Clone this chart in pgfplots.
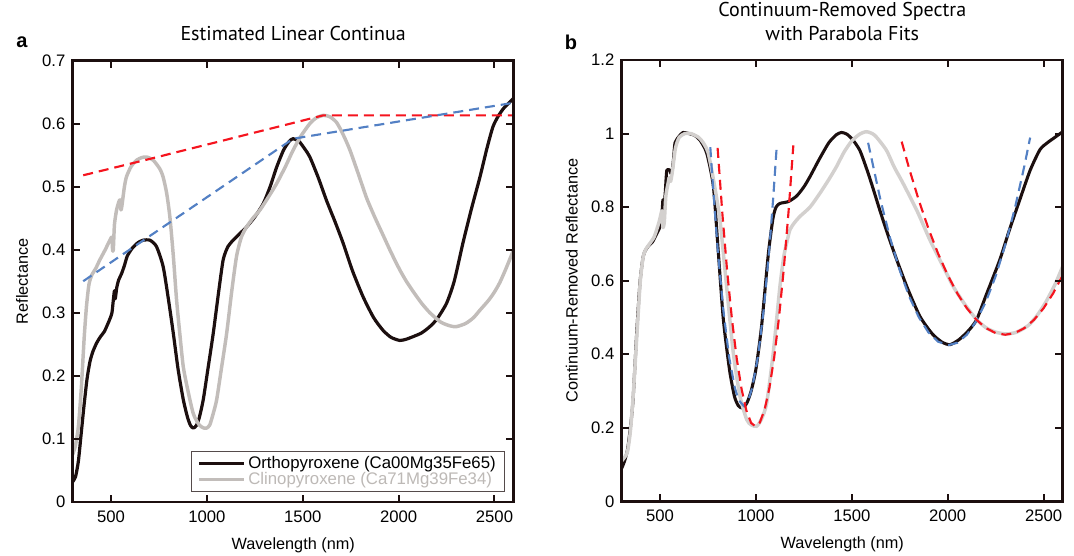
\documentclass[border=0pt]{standalone}
\usepackage{pgfplots}
\pgfplotsset{compat=1.18}
\usepackage{fontspec}
\setmainfont{Liberation Sans}
\newfontfamily\titlefont{PT Sans}
\definecolor{ink}{HTML}{1C0F0F}
\definecolor{clino}{HTML}{C2BDBA}
\definecolor{clinob}{HTML}{D3D0CE}
\definecolor{fitred}{HTML}{F5141E}
\definecolor{fitblue}{HTML}{5380C4}
\definecolor{legtext}{HTML}{BDB9B6}

\pgfplotsset{
  mystyle/.style={
    scale only axis, width=330.75pt, height=331pt,
    xmin=300, xmax=2600,
    xtick={500,1000,1500,2000,2500},
    xticklabels={500,1000,1500,2000,2500},
    axis line style={ink, line width=1.9pt},
    tick style={ink, line width=1.5pt},
    tick align=inside, major tick length=5.5pt,
    axis on top,
    ticklabel style={font=\fontsize{12.5}{14}\selectfont},
    /pgf/number format/assume math mode=true,
    xticklabel style={yshift=-3pt},
    yticklabel style={xshift=-2pt},
    every axis x label/.style={at={(axis description cs:0.5,-0.098)}, anchor=center, font=\fontsize{12.2}{14}\selectfont},
    title style={font=\titlefont\fontsize{15}{18}\selectfont, align=center, anchor=center},
  }
}

\begin{document}
\begin{tikzpicture}
\path[use as bounding box] (0,0) rectangle (805.5pt,417pt);

% ---------------- panel a ----------------
\begin{axis}[mystyle,
  at={(54.5pt,371.6pt)}, anchor=north west,
  ymin=0, ymax=0.7, ytick={0,0.1,0.2,0.3,0.4,0.5,0.6,0.7},
  yticklabels={0,0.1,0.2,0.3,0.4,0.5,0.6,0.7},
  every axis y label/.style={at={(axis description cs:-0.115,0.5)}, anchor=center, rotate=90, font=\fontsize{12.2}{14}\selectfont},
  title style={at={(axis description cs:0.5,1)}, yshift=13.9pt},
  title={Estimated Linear Continua},
  xlabel={Wavelength (nm)}, ylabel={Reflectance},
  legend style={at={(axis description cs:0.98,0.1155)}, anchor=north east,
    draw=ink!75, line width=0.6pt, fill=white,
    font=\fontsize{12.6}{14}\selectfont, inner xsep=4.5pt, inner ysep=1.5pt, row sep=-2pt,
    cells={anchor=west}},
  legend image code/.code={\draw[#1] (0pt,0pt) -- (34pt,0pt);},
]
\addlegendimage{ink, line width=2.3pt}
\addlegendentry{Orthopyroxene (Ca00Mg35Fe65)}
\addlegendimage{clino, line width=2.3pt}
\addlegendentry{\textcolor{legtext}{Clinopyroxene (Ca71Mg39Fe34)}}

\addplot[ink, line width=2.4pt, forget plot, line join=round, smooth, tension=0.4] coordinates {
(300,0.032)(315,0.04)(330,0.065)(345,0.11)(360,0.155)(375,0.195)(390,0.222)(405,0.238)(425,0.252)(445,0.262)(465,0.27)(480,0.28)(494,0.29)(505,0.30)(512,0.32)(518,0.335)(522,0.322)(530,0.34)(540,0.352)(555,0.362)(570,0.375)(585,0.39)(610,0.402)(640,0.411)(667,0.415)(703,0.415)(737,0.405)(772,0.373)(800,0.32)(825,0.267)(850,0.21)(877,0.162)(900,0.133)(915,0.121)(929,0.117)(945,0.121)(960,0.133)(981,0.162)(1005,0.21)(1033,0.267)(1060,0.33)(1085,0.384)(1110,0.405)(1137,0.415)(1170,0.425)(1207,0.436)(1250,0.452)(1294,0.473)(1330,0.5)(1364,0.531)(1400,0.558)(1430,0.572)(1450,0.576)(1480,0.572)(1510,0.56)(1537,0.547)(1580,0.515)(1624,0.478)(1670,0.443)(1711,0.41)(1760,0.366)(1815,0.325)(1870,0.292)(1919,0.272)(1960,0.261)(2006,0.256)(2040,0.258)(2075,0.262)(2120,0.268)(2163,0.278)(2200,0.29)(2250,0.315)(2290,0.35)(2335,0.41)(2380,0.465)(2424,0.515)(2460,0.56)(2492,0.595)(2520,0.612)(2550,0.625)(2600,0.64)
};
\addplot[clino, line width=2.6pt, forget plot, line join=round, smooth, tension=0.4] coordinates {
(300,0.075)(315,0.09)(330,0.12)(345,0.18)(360,0.26)(372,0.31)(385,0.345)(400,0.36)(420,0.37)(442,0.384)(470,0.40)(494,0.415)(505,0.42)(508,0.40)(512,0.40)(518,0.44)(529,0.463)(540,0.475)(547,0.479)(552,0.463)(557,0.47)(570,0.50)(581,0.516)(605,0.532)(634,0.542)(660,0.546)(686,0.547)(720,0.542)(755,0.528)(772,0.515)(790,0.49)(807,0.452)(825,0.39)(842,0.32)(860,0.263)(877,0.214)(900,0.178)(929,0.14)(960,0.122)(985,0.117)(999,0.117)(1015,0.122)(1033,0.14)(1051,0.162)(1075,0.21)(1103,0.267)(1130,0.335)(1155,0.39)(1180,0.42)(1207,0.436)(1240,0.45)(1277,0.463)(1320,0.483)(1364,0.505)(1410,0.532)(1450,0.558)(1490,0.58)(1537,0.60)(1570,0.609)(1607,0.613)(1640,0.611)(1676,0.602)(1710,0.583)(1746,0.558)(1790,0.52)(1833,0.482)(1875,0.452)(1919,0.423)(1960,0.396)(2006,0.368)(2040,0.35)(2075,0.334)(2120,0.315)(2163,0.30)(2220,0.285)(2270,0.279)(2302,0.278)(2350,0.283)(2390,0.292)(2424,0.304)(2470,0.32)(2500,0.333)(2528,0.348)(2560,0.37)(2600,0.40)
};
\addplot[fitred, line width=1.6pt, dash pattern=on 7.5pt off 4.5pt, forget plot] coordinates {
(355,0.518)(703,0.544)(1607,0.613)(2600,0.613)
};
\addplot[fitblue, line width=1.6pt, dash pattern=on 7.5pt off 4.5pt, forget plot] coordinates {
(355,0.350)(1450,0.576)(2600,0.633)
};
\end{axis}

% ---------------- panel b ----------------
\begin{axis}[mystyle,
  at={(466.3pt,372pt)}, anchor=north west,
  ymin=0, ymax=1.2, ytick={0,0.2,0.4,0.6,0.8,1,1.2},
  yticklabels={0,0.2,0.4,0.6,0.8,1,1.2},
  every axis y label/.style={at={(axis description cs:-0.113,0.5)}, anchor=center, rotate=90, font=\fontsize{12.2}{14}\selectfont},
  title style={at={(axis description cs:0.5,1)}, yshift=22.9pt},
  title={Continuum-Removed Spectra\\with Parabola Fits},
  xlabel={Wavelength (nm)}, ylabel={Continuum-Removed Reflectance},
]
\addplot[ink, line width=2.3pt, line join=round, smooth, tension=0.4] coordinates {
(300,0.09)(315,0.11)(330,0.14)(345,0.2)(359,0.276)(378,0.458)(395,0.594)(410,0.66)(421,0.68)(440,0.695)(460,0.705)(480,0.725)(500,0.747)(508,0.77)(512,0.80)(515,0.82)(520,0.80)(527,0.84)(535,0.90)(550,0.9)(560,0.89)(570,0.93)(578,0.975)(600,0.993)(620,1.003)(650,1.0)(680,0.995)(708,0.982)(743,0.947)(778,0.856)(804,0.675)(830,0.494)(862,0.358)(888,0.285)(908,0.26)(926,0.254)(940,0.258)(955,0.27)(975,0.30)(1000,0.36)(1030,0.48)(1064,0.67)(1089,0.77)(1105,0.80)(1125,0.81)(1169,0.815)(1212,0.83)(1250,0.855)(1282,0.883)(1330,0.93)(1380,0.975)(1420,0.997)(1447,1.003)(1475,0.998)(1505,0.983)(1542,0.954)(1580,0.90)(1610,0.852)(1647,0.79)(1690,0.722)(1734,0.657)(1790,0.58)(1855,0.503)(1920,0.455)(1970,0.433)(2012,0.426)(2060,0.44)(2110,0.465)(2151,0.494)(2200,0.56)(2272,0.657)(2320,0.735)(2376,0.82)(2430,0.9)(2481,0.956)(2520,0.975)(2560,0.99)(2600,1.005)
};
\addplot[clinob, line width=2.6pt, line join=round, smooth, tension=0.4] coordinates {
(300,0.11)(315,0.12)(330,0.135)(345,0.19)(360,0.29)(380,0.46)(397,0.6)(412,0.665)(425,0.685)(445,0.7)(470,0.72)(495,0.76)(510,0.79)(515,0.745)(522,0.76)(530,0.83)(540,0.86)(548,0.88)(555,0.87)(565,0.9)(580,0.96)(600,0.99)(630,1.0)(660,1.0)(700,0.99)(725,0.975)(751,0.947)(780,0.87)(812,0.766)(847,0.584)(882,0.403)(917,0.285)(952,0.222)(975,0.208)(1004,0.204)(1030,0.225)(1056,0.267)(1090,0.403)(1125,0.584)(1145,0.665)(1160,0.702)(1177,0.738)(1200,0.757)(1230,0.775)(1282,0.80)(1334,0.838)(1380,0.875)(1420,0.91)(1460,0.95)(1500,0.98)(1540,0.998)(1577,1.005)(1620,0.995)(1680,0.955)(1720,0.91)(1767,0.865)(1840,0.79)(1907,0.711)(1970,0.645)(2029,0.584)(2090,0.535)(2151,0.494)(2200,0.472)(2250,0.46)(2307,0.455)(2360,0.46)(2420,0.478)(2463,0.503)(2510,0.54)(2560,0.59)(2600,0.639)
};
% parabola fits (typed points)
\addplot[fitblue, line width=1.6pt, dash pattern=on 7.5pt off 4.5pt] coordinates {
(762,0.963)(770,0.900)(800,0.688)(830,0.519)(860,0.392)(890,0.308)(910,0.275)(935,0.260)(960,0.275)(980,0.308)(1010,0.392)(1040,0.519)(1070,0.688)(1090,0.825)(1108,0.963)
};
\addplot[fitblue, line width=1.6pt, dash pattern=on 7.5pt off 4.5pt] coordinates {
(1585,0.975)(1650,0.818)(1700,0.715)(1750,0.628)(1800,0.556)(1850,0.500)(1900,0.459)(1950,0.434)(2005,0.425)(2050,0.431)(2100,0.453)(2150,0.491)(2200,0.544)(2250,0.612)(2300,0.697)(2350,0.796)(2400,0.912)(2430,0.989)
};
\addplot[fitred, line width=1.6pt, dash pattern=on 7.5pt off 4.5pt] coordinates {
(800,0.961)(825,0.781)(850,0.625)(875,0.494)(900,0.387)(925,0.305)(950,0.247)(975,0.213)(997,0.204)(1020,0.214)(1045,0.249)(1070,0.308)(1095,0.391)(1120,0.499)(1145,0.631)(1170,0.788)(1195,0.968)
};
\addplot[fitred, line width=1.6pt, dash pattern=on 7.5pt off 4.5pt] coordinates {
(1760,0.978)(1800,0.903)(1850,0.8175)(1900,0.741)(1950,0.6735)(2000,0.615)(2050,0.5655)(2100,0.525)(2150,0.4935)(2200,0.471)(2250,0.4575)(2300,0.453)(2350,0.4575)(2400,0.471)(2450,0.4935)(2500,0.525)(2550,0.5655)(2600,0.615)
};
\end{axis}

\node[font=\bfseries\fontsize{15}{18}\selectfont] at (16.5pt,385.5pt) {a};
\node[font=\bfseries\fontsize{15}{18}\selectfont] at (428.3pt,385.5pt) {b};
\end{tikzpicture}
\end{document}
